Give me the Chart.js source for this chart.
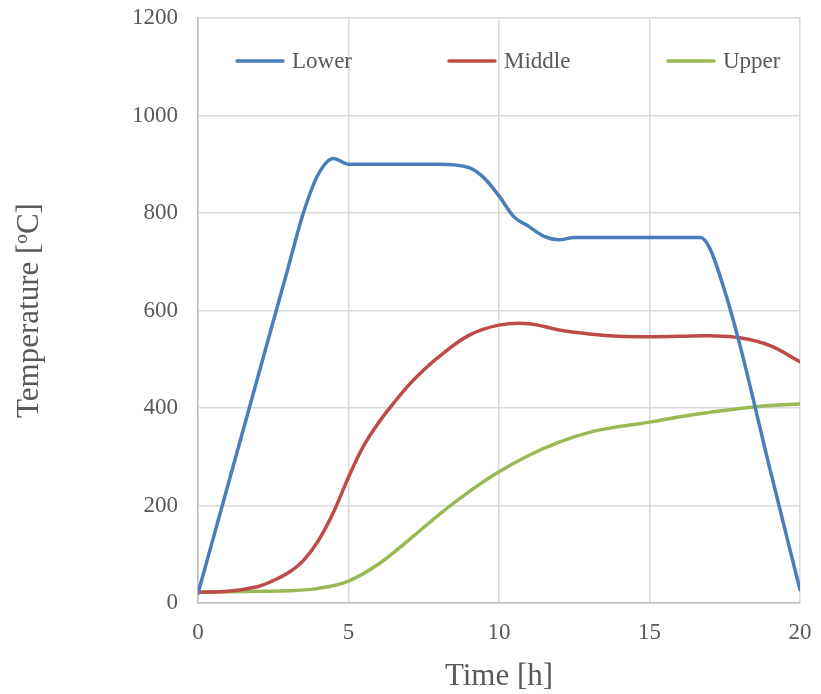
<!DOCTYPE html>
<html>
<head>
<meta charset="utf-8">
<script src="https://cdn.jsdelivr.net/npm/chart.js@4.4.1/dist/chart.umd.min.js"></script>
<style>
  html, body { margin: 0; padding: 0; background: #ffffff; }
  #wrap { width: 821px; height: 694px; }
</style>
</head>
<body>
<div id="wrap"><canvas id="c" width="821" height="694"></canvas></div>
<script>
// ---- data ----
const seriesNames = ['Lower', 'Middle', 'Upper'];

const lowerTime = [0, 1, 2, 3, 3.5, 4, 4.5, 5, 6, 7, 8, 9, 9.5, 10, 10.5, 11, 11.5, 12, 12.5, 13, 14, 15, 16, 16.7, 17, 17.5, 18, 19, 20];
const lowerTemp = [20, 243, 466, 689, 800, 880, 912, 900, 900, 900, 900, 893, 872, 835, 792, 772, 752, 745, 750, 750, 750, 750, 750, 750, 728, 640, 530, 275, 27];

const middleTime = [0, 1, 2, 2.5, 3, 3.5, 4, 4.5, 5, 5.5, 6, 6.5, 7, 7.5, 8, 9, 10, 11, 12, 13, 14, 15, 16, 17, 18, 19, 20];
const middleTemp = [22, 24, 34, 46, 62, 87, 128, 186, 258, 322, 370, 410, 447, 478, 505, 549, 570, 573, 560, 552, 547, 546, 547, 548, 544, 528, 495];

const upperTime = [0, 1, 2, 3, 4, 5, 6, 7, 8, 9, 10, 11, 12, 13, 14, 15, 16, 17, 18, 19, 20];
const upperTemp = [22, 23, 24, 25, 30, 45, 80, 129, 181, 228, 269, 303, 330, 350, 362, 371, 382, 391, 399, 405, 408];

const xTicks = [0, 5, 10, 15, 20];
const yTicks = [0, 200, 400, 600, 800, 1000, 1200];
const xTitle = 'Time [h]';
const yTitle = 'Temperature [ºC]';

// ---- build ----
const toPoints = (xs, ys) => xs.map((x, i) => ({ x: x, y: ys[i] }));
const colors = ['#4a7ebb', '#be4b48', '#98b954'];
const FONT = "'Liberation Serif', 'Times New Roman', serif";
const TEXT = '#595959';

const inlineLegend = {
  id: 'inlineLegend',
  afterDatasetsDraw(chart) {
    const { ctx, chartArea } = chart;
    const y = chartArea.top + 43;
    const offsets = [39, 251, 470];
    const lineLen = 46;
    ctx.save();
    ctx.font = "23px " + FONT;
    ctx.textBaseline = 'middle';
    ctx.textAlign = 'left';
    chart.data.datasets.forEach((ds, i) => {
      const x0 = chartArea.left + offsets[i];
      ctx.strokeStyle = ds.borderColor;
      ctx.lineWidth = 3.5;
      ctx.lineCap = 'round';
      ctx.beginPath();
      ctx.moveTo(x0, y);
      ctx.lineTo(x0 + lineLen, y);
      ctx.stroke();
      ctx.fillStyle = TEXT;
      ctx.fillText(ds.label, x0 + lineLen + 9, y + 1);
    });
    ctx.restore();
  }
};

const datasets = [
  { label: seriesNames[0], data: toPoints(lowerTime, lowerTemp), cubicInterpolationMode: 'monotone' },
  { label: seriesNames[1], data: toPoints(middleTime, middleTemp), tension: 0.4 },
  { label: seriesNames[2], data: toPoints(upperTime, upperTemp), tension: 0.4 }
].map((d, i) => Object.assign(d, {
  borderColor: colors[i],
  backgroundColor: colors[i],
  borderWidth: 3.5,
  pointRadius: 0,
  pointHoverRadius: 0,
  fill: false,
  borderCapStyle: 'round',
  borderJoinStyle: 'round'
}));

new Chart(document.getElementById('c'), {
  type: 'line',
  data: { datasets: datasets },
  plugins: [inlineLegend],
  options: {
    responsive: false,
    animation: false,
    layout: { padding: { left: 0, right: 21, top: 18, bottom: 0 } },
    plugins: { legend: { display: false }, tooltip: { enabled: false } },
    scales: {
      x: {
        type: 'linear',
        min: 0, max: 20,
        afterBuildTicks: (s) => { s.ticks = xTicks.map(v => ({ value: v })); },
        afterFit: (s) => { s.height = 91; s.paddingLeft = 0; s.paddingRight = 0; },
        ticks: { color: TEXT, font: { family: FONT, size: 23 }, padding: 16, maxRotation: 0, callback: (v) => String(v) },
        grid: { color: '#d9d9d9', lineWidth: 1.5, drawTicks: false },
        border: { color: '#bfbfbf', width: 1.5 },
        title: { display: true, text: xTitle, color: TEXT, font: { family: FONT, size: 31, lineHeight: 1 }, padding: { top: 0, bottom: 2 } }
      },
      y: {
        min: 0, max: 1200,
        afterBuildTicks: (s) => { s.ticks = yTicks.map(v => ({ value: v })); },
        afterFit: (s) => { s.width = 198; s.paddingTop = 0; s.paddingBottom = 0; },
        ticks: { color: TEXT, font: { family: FONT, size: 23 }, padding: 20, callback: (v) => String(v) },
        grid: { color: '#d9d9d9', lineWidth: 1.5, drawTicks: false },
        border: { color: '#bfbfbf', width: 1.5 },
        title: { display: true, text: yTitle, color: TEXT, font: { family: FONT, size: 31, lineHeight: 1 }, padding: { top: 14, bottom: 0 } }
      }
    }
  }
});
</script>
</body>
</html>
